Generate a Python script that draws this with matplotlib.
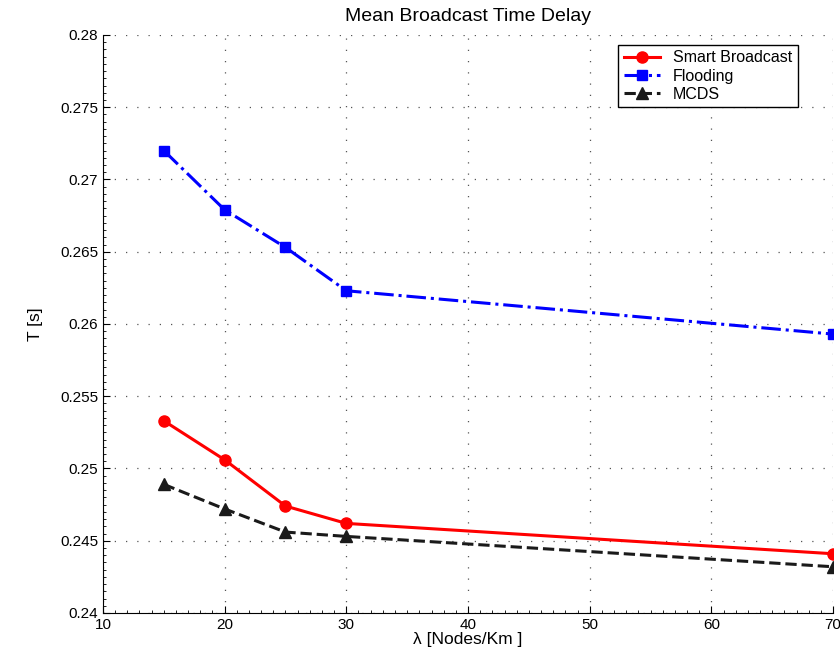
import matplotlib
matplotlib.use("Agg")
import matplotlib.pyplot as plt
from matplotlib.ticker import AutoMinorLocator

plt.rcParams['font.family'] = ['Liberation Sans', 'DejaVu Sans']

density = [15, 20, 25, 30, 70]
smart = [0.2533, 0.2506, 0.2474, 0.2462, 0.2441]
flooding = [0.2720, 0.2679, 0.2653, 0.2623, 0.2593]
mcds = [0.2489, 0.2472, 0.2456, 0.2453, 0.2432]

fig = plt.figure(figsize=(8.4, 6.54), dpi=100)
ax = fig.add_axes([0.1226, 0.0627, 0.8691, 0.8838])

ax.plot(density, smart, '-', color='#ff0000', marker='o', markersize=8,
        linewidth=2.2, label='Smart Broadcast')
ax.plot(density, flooding, '-.', color='#0000ff', marker='s', markersize=7,
        linewidth=2.2, label='Flooding')
ax.plot(density, mcds, '--', color='#1a1a1a', marker='^', markersize=9,
        linewidth=2.2, label='MCDS')

ax.set_xlim(10, 70)
ax.set_ylim(0.24, 0.28)
ax.set_xticks([10, 20, 30, 40, 50, 60, 70])
ax.set_yticks([0.24, 0.245, 0.25, 0.255, 0.26, 0.265, 0.27, 0.275, 0.28])
ax.set_yticklabels(['0.24', '0.245', '0.25', '0.255', '0.26', '0.265', '0.27', '0.275', '0.28'])
ax.xaxis.set_minor_locator(AutoMinorLocator(10))
ax.yaxis.set_minor_locator(AutoMinorLocator(10))
ax.spines['top'].set_visible(False)
ax.spines['right'].set_visible(False)
ax.tick_params(which='both', direction='in', labelsize=11)
ax.tick_params(which='major', length=5)
ax.tick_params(which='minor', length=2)
ax.grid(True, which='major', linestyle=(0, (1, 8)), color='#555555', linewidth=0.9)

ax.set_title('Mean Broadcast Time Delay', fontsize=14, pad=10)
ax.set_xlabel('λ [Nodes/Km ]', fontsize=12.5, labelpad=0)
ax.set_ylabel('T [s]', fontsize=12.5, labelpad=12)

leg = ax.legend(loc='upper right', bbox_to_anchor=(0.952, 0.983), borderaxespad=0,
                fontsize=11.5, fancybox=False, edgecolor='black', framealpha=1,
                handlelength=2.3, borderpad=0.35, labelspacing=0.2, handletextpad=0.8)
leg.get_frame().set_linewidth(1.0)

fig.savefig('out.png', dpi=100)
